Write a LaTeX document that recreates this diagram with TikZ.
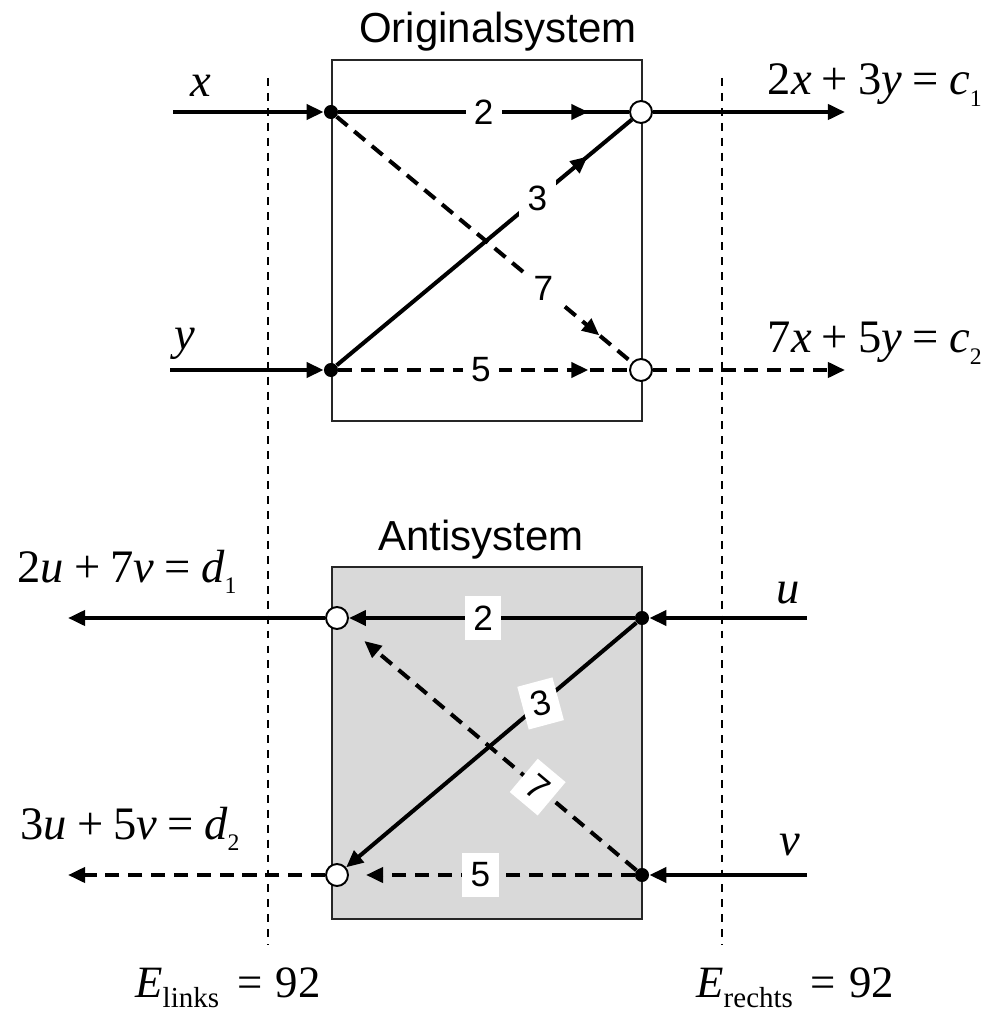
\documentclass[tikz,border=0pt]{standalone}
\usepackage{fontspec}
\setmainfont{Liberation Sans}
\newfontfamily\eqfont{Liberation Serif}
\usetikzlibrary{arrows.meta,decorations.markings}
\newcommand\vv[1]{\textit{#1}}
\newcommand\op[1]{\hspace{0.22em}#1\hspace{0.22em}}
\newcommand\opw[1]{\hspace{0.4em}#1\hspace{0.3em}}
\newcommand\ix[1]{\raisebox{-6.6pt}{\fontsize{13.5}{14}\selectfont #1}}
\newcommand\ixw[1]{\raisebox{-6pt}{\fontsize{16.5}{17}\selectfont #1}}
\tikzset{
  sg box/.style={draw=black!85, line width=1.1pt, inner sep=0pt, anchor=north west},
  sg border/.style={line width=1.1pt, dash pattern=on 4.5pt off 4pt},
  sg line/.style={line width=2.3pt},
  sg dash/.style={dash pattern=on 8pt off 5pt},
  sg head/.style={-{Triangle[length=9.7pt, width=8.5pt]}},
  sg mid/.style={postaction={decorate}, decoration={markings,
      mark=at position #1 with {\arrow{Triangle[length=9.7pt, width=8.5pt]}}}},
  sg dot/.style={circle, fill=black, inner sep=0pt, minimum size=8pt},
  sg sum/.style={circle, draw=black, fill=white, line width=1.1pt, inner sep=0pt, minimum size=12.5pt},
  sg num/.style={fill=white, inner xsep=4.8pt, inner ysep=5.5pt, font=\fontsize{20}{22}\selectfont},
  sg title/.style={anchor=base, inner sep=0pt, font=\fontsize{23.9}{26}\selectfont},
  sg eq/.style={inner sep=0pt, font=\eqfont\fontsize{26.5}{30}\selectfont},
}
\begin{document}
\begin{tikzpicture}[x=0.02cm, y=-0.02cm]
  \useasboundingbox (0,0) rectangle (992,1016);
  % boxes and titles
  \node[sg box, minimum width=6.2cm, minimum height=7.22cm] (orig) at (331,59) {};
  \node[sg box, fill=black!15, minimum width=6.2cm, minimum height=7.04cm] (anti) at (331,566) {};
  \node[sg title] (torig) at (498,43) {Originalsystem};
  \node[sg title] (tanti) at (481,550) {Antisystem};
  % dashed borders
  \coordinate (lt) at (268,78); \coordinate (lb) at (268,945);
  \coordinate (rt) at (722,78); \coordinate (rb) at (722,945);
  \draw[sg border] (lt) -- (lb);
  \draw[sg border] (rt) -- (rb);
  % original system
  \node[sg dot] (dx) at (331,112) {};
  \node[sg dot] (dy) at (331,370) {};
  \node[sg sum] (c1) at (641,112) {};
  \node[sg sum] (c2) at (641,370) {};
  \coordinate (inx) at (173,112); \coordinate (iny) at (170,370);
  \coordinate (ox) at (845,112);  \coordinate (oy) at (845,370);
  \draw[sg line, sg head] (inx) -- (dx);
  \draw[sg line, sg head] (iny) -- (dy);
  \draw[sg line, sg head] (c1) -- (ox);
  \draw[sg line, sg dash, sg head] (c2) -- (oy);
  \draw[sg line, sg dash, sg mid=0.89] (dx) -- node[sg num, pos=0.70] (n7) {7} (c2);
  \draw[sg line, sg mid=0.85] (dy) -- node[sg num, pos=0.68] (n3) {3} (c1);
  \draw[sg line, sg mid=0.86] (dx) -- node[sg num, pos=0.5] (n2) {2} (c1);
  \draw[sg line, sg dash, sg mid=0.86] (dy) -- node[sg num, pos=0.49] (n5) {5} (c2);
  \node[sg eq, anchor=base] (lx) at (201,97) {\vv{x}};
  \node[sg eq, anchor=base] (ly) at (185,350) {\vv{y}};
  \node[sg eq, anchor=base east] (lc1) at (982,95) {2\vv{x}\op{+}3\vv{y}\op{=}\vv{c}\ix{1}};
  \node[sg eq, anchor=base east] (lc2) at (982,353) {7\vv{x}\op{+}5\vv{y}\op{=}\vv{c}\ix{2}};
  % anti system
  \node[sg dot] (du) at (642,618) {};
  \node[sg dot] (dv) at (642,875) {};
  \node[sg sum] (e1) at (337,618) {};
  \node[sg sum] (e2) at (337,875) {};
  \coordinate (inu) at (807,618); \coordinate (inv) at (807,875);
  \coordinate (od1) at (68,618);  \coordinate (od2) at (68,875);
  \draw[sg line, sg head] (inu) -- (du);
  \draw[sg line, sg head] (inv) -- (dv);
  \draw[sg line, sg head] (e1) -- (od1);
  \draw[sg line, sg dash, sg head] (e2) -- (od2);
  \draw[sg line, sg dash, sg head, shorten >=13.5pt] (dv) -- node[sg num, pos=0.34, rotate=-40] (m7) {7} (e1);
  \draw[sg line, sg head] (du) -- node[sg num, pos=0.33, rotate=15] (m3) {3} (e2);
  \draw[sg line, sg head] (du) -- node[sg num, pos=0.53] (m2) {2} (e1);
  \draw[sg line, sg dash, sg head, shorten >=9.7pt] (dv) -- node[sg num, pos=0.54] (m5) {5} (e2);
  \node[sg eq, anchor=base] (lu) at (788,603) {\vv{u}};
  \node[sg eq, anchor=base] (lv) at (790,855) {\vv{v}};
  \node[sg eq, anchor=base west] (ld1) at (17,582) {2\vv{u}\op{+}7\vv{v}\op{=}\vv{d}\ix{1}};
  \node[sg eq, anchor=base west] (ld2) at (20,839) {3\vv{u}\op{+}5\vv{v}\op{=}\vv{d}\ix{2}};
  % energies
  \node[sg eq, anchor=base west, font=\eqfont\fontsize{25.5}{28}\selectfont] (el) at (135,997) {\vv{E}\ixw{links}\opw{=}92};
  \node[sg eq, anchor=base west, font=\eqfont\fontsize{25.5}{28}\selectfont] (er) at (696,997) {\vv{E}\ixw{rechts}\opw{=}92};
\end{tikzpicture}
\end{document}
